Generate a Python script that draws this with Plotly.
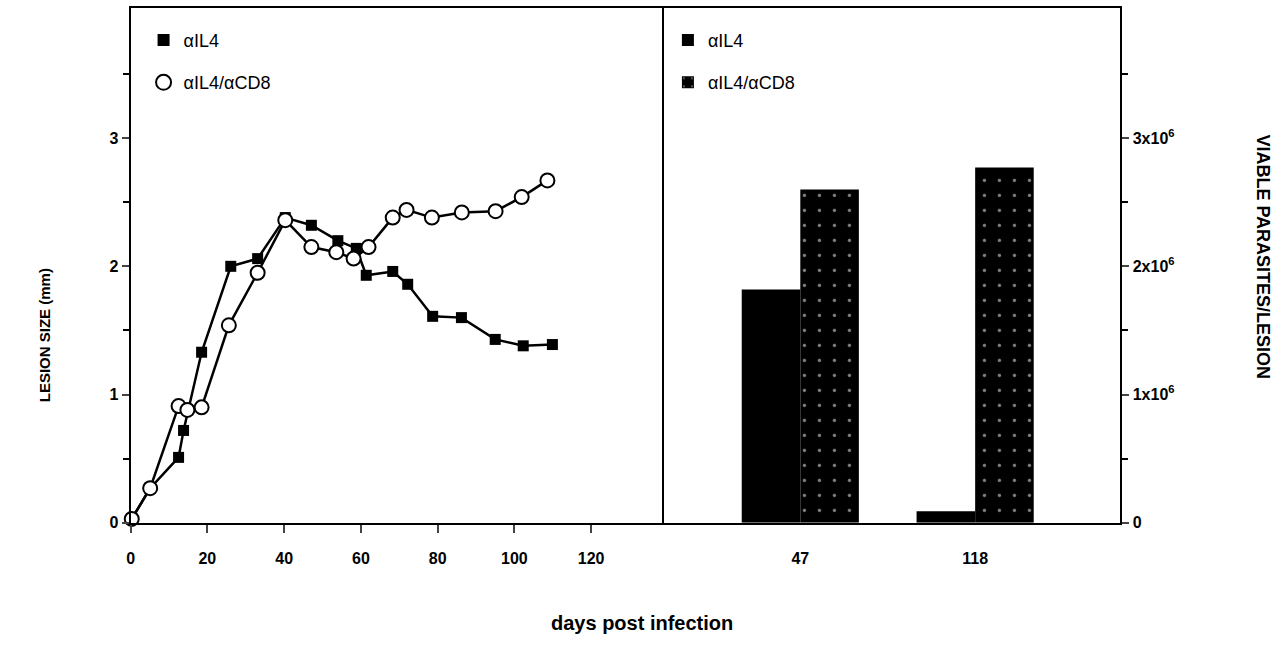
import plotly.graph_objects as go

# ---- data ----
days_il4 = [0.3, 5.1, 12.5, 13.8, 18.5, 26.1, 33.1, 40.3, 47.1, 54.0, 58.8, 61.4, 68.3, 72.2, 78.7, 86.2, 95.0, 102.3, 109.9]
size_il4 = [0.03, 0.27, 0.51, 0.72, 1.33, 2.00, 2.06, 2.38, 2.32, 2.20, 2.14, 1.93, 1.96, 1.86, 1.61, 1.60, 1.43, 1.38, 1.39]

days_cd8 = [0.3, 5.1, 12.5, 14.8, 18.5, 25.6, 33.1, 40.3, 47.1, 53.6, 58.1, 62.0, 68.3, 71.9, 78.5, 86.3, 95.1, 101.9, 108.6]
size_cd8 = [0.03, 0.27, 0.91, 0.88, 0.90, 1.54, 1.95, 2.36, 2.15, 2.11, 2.06, 2.15, 2.38, 2.44, 2.38, 2.42, 2.43, 2.54, 2.67]

bar_days = ["47", "118"]
bar_pos = [1, 2]
parasites_il4 = [1.82e6, 0.09e6]
parasites_cd8 = [2.60e6, 2.77e6]

left_xticks = [0, 20, 40, 60, 80, 100, 120]
left_yticks = [0, 1, 2, 3]
right_yticks = [0, 1e6, 2e6, 3e6]
right_yticktext = ["0", "1x10<sup>6</sup>", "2x10<sup>6</sup>", "3x10<sup>6</sup>"]

FONT = "Liberation Sans"
W, H = 1278, 660

def px(x):
    return x / W

def py(y):
    return 1 - y / H

fig = go.Figure()

fig.add_trace(go.Scatter(
    x=days_il4, y=size_il4, mode="lines+markers", showlegend=False,
    line=dict(color="black", width=2.5),
    marker=dict(symbol="square", size=11, color="black"),
    cliponaxis=False, xaxis="x", yaxis="y"))
fig.add_trace(go.Scatter(
    x=days_cd8, y=size_cd8, mode="lines+markers", showlegend=False,
    line=dict(color="black", width=2.5),
    marker=dict(symbol="circle", size=14, color="white", line=dict(color="black", width=2)),
    cliponaxis=False, xaxis="x", yaxis="y"))

# legend-only entries for the line panel
fig.add_trace(go.Scatter(
    x=[None], y=[None], mode="markers", name="αIL4", legend="legend", legendgroup="a",
    marker=dict(symbol="square", size=12, color="black"), xaxis="x", yaxis="y"))
fig.add_trace(go.Scatter(
    x=[None], y=[None], mode="markers", name="αIL4/αCD8", legend="legend", legendgroup="b",
    marker=dict(symbol="circle", size=15, color="white", line=dict(color="black", width=2)),
    xaxis="x", yaxis="y"))

fig.add_trace(go.Bar(
    x=bar_pos, y=parasites_il4, name="αIL4", legend="legend2", legendgroup="c",
    marker=dict(color="black", line=dict(width=0)),
    xaxis="x2", yaxis="y2"))
fig.add_trace(go.Bar(
    x=bar_pos, y=parasites_cd8, name="αIL4/αCD8", legend="legend2", legendgroup="d",
    marker=dict(color="black", line=dict(width=0),
                pattern=dict(shape=".", fgcolor="white", bgcolor="black", size=15, solidity=0.04)),
    xaxis="x2", yaxis="y2"))

tickfont = dict(family=FONT, size=16, color="black", weight="bold")

x0, xm, x1 = 127, 660, 1120
ytop, ybot = 8, 530
pxu = 130.0  # pixels per y unit
ymax = (ybot - ytop) / pxu
day_px = 3.85

fig.update_layout(
    width=W, height=H,
    margin=dict(l=0, r=0, t=0, b=0),
    paper_bgcolor="white", plot_bgcolor="white",
    barmode="group", bargap=0.33, bargroupgap=0,
    xaxis=dict(domain=[px(x0), px(xm)], range=[0, (xm - x0) / day_px],
               tickvals=left_xticks, ticks="outside", ticklen=8, tickwidth=2, ticklabelstandoff=12,
               showline=True, linewidth=2, linecolor="black", mirror=True,
               showgrid=False, zeroline=False, tickfont=tickfont, anchor="y"),
    yaxis=dict(domain=[py(ybot), py(ytop)], range=[0, ymax],
               tickvals=left_yticks, ticks="outside", ticklen=7, tickwidth=2,
               minor=dict(tickvals=[0.5, 1.5, 2.5, 3.5], ticks="outside", ticklen=6, tickwidth=2, tickcolor="black"),
               showline=True, linewidth=2, linecolor="black", mirror=True,
               showgrid=False, zeroline=False, tickfont=tickfont, anchor="x"),
    xaxis2=dict(domain=[px(xm), px(x1)], range=[1 - (798.8 - xm) / 175.4, 2 + (x1 - 974.2) / 175.4],
                tickvals=bar_pos, ticktext=bar_days, ticks="", ticklabelstandoff=20,
                showline=True, linewidth=2, linecolor="black", mirror=True,
                showgrid=False, zeroline=False, tickfont=tickfont, anchor="y2"),
    yaxis2=dict(domain=[py(ybot), py(ytop)], range=[0, ymax * 1e6], side="right",
                tickvals=right_yticks, ticktext=right_yticktext, ticks="outside", ticklen=7, tickwidth=2,
                minor=dict(tickvals=[0.5e6, 1.5e6, 2.5e6, 3.5e6], ticks="outside", ticklen=6, tickwidth=2, tickcolor="black"),
                showline=True, linewidth=2, linecolor="black", mirror=False,
                showgrid=False, zeroline=False, tickfont=tickfont, anchor="x2"),
    legend=dict(x=px(140), y=py(22), xanchor="left", yanchor="top",
                bgcolor="rgba(0,0,0,0)", tracegroupgap=16,
                font=dict(family=FONT, size=18, color="black")),
    legend2=dict(x=px(666), y=py(22), xanchor="left", yanchor="top",
                 bgcolor="rgba(0,0,0,0)", tracegroupgap=16,
                 font=dict(family=FONT, size=18, color="black")),
    annotations=[
        dict(text="LESION SIZE (mm)", x=px(40), y=py(340), xref="paper", yref="paper",
             xanchor="center", yanchor="middle",
             textangle=-90, showarrow=False, font=dict(family=FONT, size=15, color="black", weight="bold")),
        dict(text="VIABLE PARASITES/LESION", x=px(1262), y=py(260), xref="paper", yref="paper",
             xanchor="center", yanchor="middle",
             textangle=90, showarrow=False, font=dict(family=FONT, size=18, color="black", weight="bold")),
        dict(text="days post infection", x=px(640), y=py(632), xref="paper", yref="paper",
             xanchor="center", yanchor="middle",
             showarrow=False, font=dict(family=FONT, size=20, color="black", weight="bold")),
    ],
)

fig.write_html("out.html")
